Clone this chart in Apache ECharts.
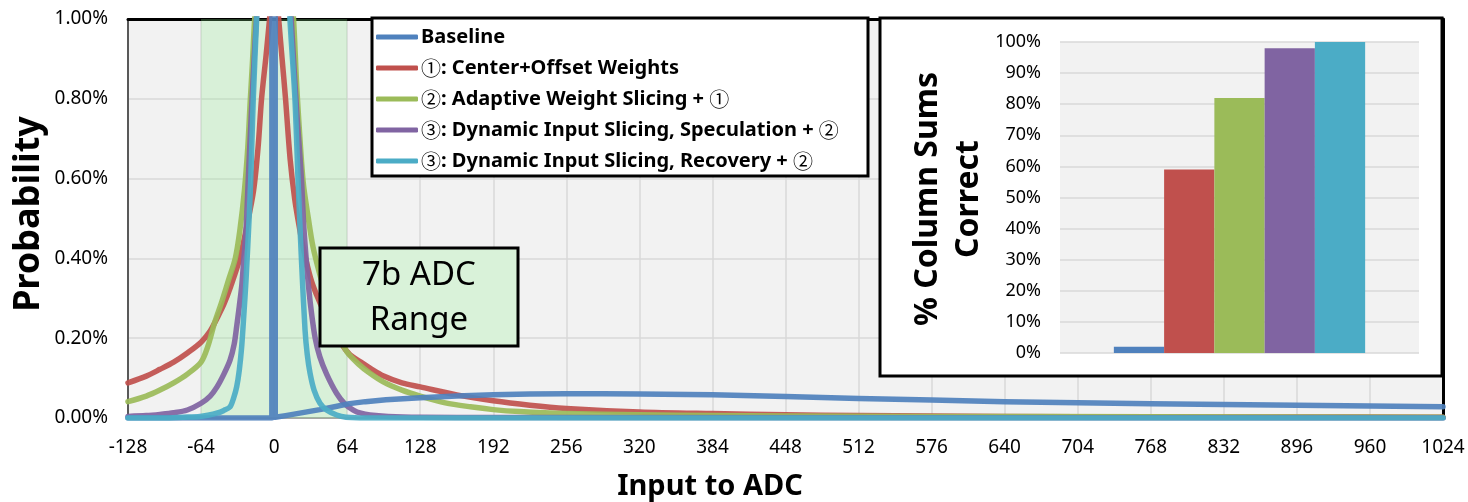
<!DOCTYPE html>
<html>
<head>
<meta charset="utf-8">
<script src="https://cdn.jsdelivr.net/npm/echarts@6/dist/echarts.min.js"></script>
<style>
html,body{margin:0;padding:0;background:#fff;}
#chart{width:1468px;height:502px;}
</style>
</head>
<body>
<div id="chart"></div>
<script>
// ---------- data ----------
const xMin = -128, xMax = 1024, xStep = 64;
const yMin = 0, yMax = 1.0, yStep = 0.2;           // percent
const bandRange = [-64, 64];                         // 7b ADC range
const seriesNames = [
  'Baseline',
  '①: Center+Offset Weights',
  '②: Adaptive Weight Slicing + ①',
  '③: Dynamic Input Slicing, Speculation + ②',
  '③: Dynamic Input Slicing, Recovery + ②'
];
const seriesColors = ['#4f81bd', '#c0504d', '#9bbb59', '#8064a2', '#4bacc6'];

// probability (%) vs input to ADC
const baseline = [
  [-128,0],[-64,0],[-2,0],[0,30],[1,0.002],[10,0.006],[20,0.011],[30,0.016],[40,0.021],
  [54,0.029],[66,0.036],[80,0.041],[98,0.046],[128,0.051],[160,0.055],[192,0.058],
  [224,0.060],[256,0.061],[288,0.061],[320,0.060],[384,0.058],[448,0.054],[512,0.049],
  [576,0.045],[640,0.041],[704,0.038],[768,0.036],[832,0.034],[896,0.032],[960,0.030],[1024,0.028]
];
const centerOffset = [
  [-128,0.088],[-112,0.105],[-100,0.122],[-88,0.140],[-76,0.163],[-64,0.190],[-56,0.218],
  [-50,0.25],[-44,0.285],[-38,0.33],[-30,0.40],[-24,0.48],[-18,0.57],[-14,0.68],[-11,0.80],
  [-7,0.91],[-4,1.0],[-2,1.08],[0,1.15],[2,1.08],[4,1.0],[7,0.90],[10,0.80],[14,0.65],
  [18,0.55],[22,0.48],[26,0.42],[32,0.35],[37,0.31],[44,0.265],[50,0.235],[58,0.19],
  [66,0.16],[76,0.14],[84,0.125],[96,0.105],[112,0.088],[128,0.078],[160,0.058],[192,0.043],
  [224,0.032],[256,0.024],[320,0.015],[384,0.011],[448,0.008],[512,0.006],[576,0.005],
  [640,0.004],[768,0.003],[896,0.0025],[1024,0.002]
];
const adaptiveWeight = [
  [-128,0.041],[-112,0.055],[-100,0.07],[-88,0.088],[-76,0.11],[-64,0.14],[-58,0.18],
  [-52,0.24],[-46,0.29],[-40,0.345],[-34,0.40],[-30,0.47],[-26,0.57],[-23,0.68],[-21,0.79],
  [-19,0.89],[-17,1.0],[-14,1.1],[0,1.3],[14,1.1],[17,1.0],[19.5,0.85],[21.5,0.75],
  [25.5,0.59],[30,0.5],[34,0.43],[40,0.36],[46,0.30],[52,0.25],[58,0.2],[64,0.165],
  [74,0.135],[84,0.112],[96,0.09],[112,0.07],[128,0.055],[150,0.038],[172,0.028],
  [192,0.021],[215,0.016],[256,0.011],[320,0.008],[384,0.006],[448,0.005],[576,0.004],
  [768,0.003],[1024,0.002]
];
const speculation = [
  [-128,0.004],[-112,0.006],[-100,0.009],[-88,0.013],[-76,0.02],[-64,0.037],[-56,0.055],
  [-50,0.078],[-44,0.11],[-38.6,0.145],[-35,0.185],[-32.8,0.229],[-30.5,0.28],[-28.4,0.33],
  [-26.5,0.40],[-24.6,0.47],[-22.6,0.60],[-20,0.76],[-17.5,0.9],[-15.5,1.0],[-12,1.15],
  [0,1.4],[12,1.15],[15,1.0],[17,0.9],[20,0.76],[22,0.68],[24,0.596],[26,0.48],[28.4,0.388],
  [30.5,0.32],[32.8,0.262],[36,0.2],[40,0.154],[46,0.11],[54.7,0.062],[62,0.035],
  [69.4,0.02],[76,0.012],[84,0.0075],[100,0.004],[128,0.002],[192,0.001],[1024,0]
];
const recovery = [
  [-128,0],[-96,0],[-80,0.002],[-65,0.004],[-58,0.007],[-50.3,0.012],[-44,0.019],
  [-38.6,0.028],[-35.5,0.05],[-32.8,0.078],[-30.5,0.12],[-28.4,0.179],[-26.5,0.26],
  [-24.6,0.346],[-21.7,0.513],[-20.5,0.596],[-18.3,0.797],[-15.3,1.0],[-12,1.2],[0,1.5],
  [11,1.2],[13.9,1.0],[18.3,0.797],[21.2,0.58],[24.1,0.388],[27.1,0.22],[29,0.16],
  [31.5,0.112],[35,0.07],[40.2,0.037],[46,0.02],[54.8,0.0075],[63,0.002],[80,0],[1024,0]
];
const curves = [baseline, centerOffset, adaptiveWeight, speculation, recovery];

// inset: % column sums correct
const barValues = [2, 59, 82, 98, 100];
const insetMin = 0, insetMax = 100, insetStep = 10;

// ---------- chart ----------
const FONT = '"Noto Sans", "Noto Sans CJK JP", sans-serif';
const chart = echarts.init(document.getElementById('chart'));

const drawOrder = [1, 2, 3, 0, 4];
const lineSeries = drawOrder.map((i, k) => ({
  type: 'line',
  name: seriesNames[i],
  data: curves[i],
  xAxisIndex: 0, yAxisIndex: 0,
  showSymbol: false,
  symbol: 'none',
  smooth: i === 0 ? false : 0.3,
  clip: true,
  z: 2 + k * 0.01,
  color: seriesColors[i],
  itemStyle: { color: seriesColors[i] },
  lineStyle: { color: seriesColors[i], width: 5.5, opacity: 0.92, cap: 'round', join: 'round' },
  animation: false,
  markArea: i === 1 ? {
    silent: true,
    itemStyle: { color: 'rgba(140,235,140,0.25)' },
    data: [[{ xAxis: bandRange[0] }, { xAxis: bandRange[1] }]]
  } : undefined
}));

const barSeries = barValues.map((v, i) => ({
  type: 'bar',
  name: 'bar' + i,
  data: [v],
  xAxisIndex: 2, yAxisIndex: 2,
  barGap: '0%',
  barCategoryGap: '30%',
  itemStyle: { color: seriesColors[i] },
  z: 6,
  animation: false
}));

const option = {
  backgroundColor: '#ffffff',
  animation: false,
  textStyle: { fontFamily: FONT },
  grid: [
    { left: 128, right: 25, top: 19, bottom: 84, show: true, backgroundColor: '#f2f2f2', borderWidth: 0 },
    { left: 1060, right: 49, top: 42, bottom: 149, show: true, backgroundColor: '#f2f2f2', borderWidth: 0, z: 4 }
  ],
  xAxis: [
    {
      type: 'value', gridIndex: 0, min: xMin, max: xMax, interval: xStep,
      axisLine: { show: true, onZero: false, lineStyle: { color: '#a6a6a6', width: 2 } },
      axisTick: { show: false },
      axisLabel: { color: '#000', fontSize: 19, margin: 20, fontFamily: FONT, formatter: v => String(v) },
      splitLine: { show: true, lineStyle: { color: '#d9d9d9', width: 1.5 } }
    },
    {
      type: 'value', gridIndex: 0, position: 'top', min: xMin, max: xMax,
      axisLine: { show: true, onZero: false, lineStyle: { color: '#000', width: 3 } },
      axisTick: { show: false }, axisLabel: { show: false }, splitLine: { show: false }
    },
    {
      type: 'category', gridIndex: 1, data: [''], z: 4,
      axisLine: { show: false }, axisTick: { show: false }, axisLabel: { show: false }
    }
  ],
  yAxis: [
    {
      type: 'value', gridIndex: 0, min: yMin, max: yMax, interval: yStep,
      axisLine: { show: true, onZero: false, lineStyle: { color: '#595959', width: 2 } },
      axisTick: { show: false },
      axisLabel: { color: '#000', fontSize: 19, margin: 20, fontFamily: FONT,
        formatter: v => v.toFixed(2) + '%' },
      splitLine: { show: true, lineStyle: { color: '#d9d9d9', width: 1.5 } }
    },
    {
      type: 'value', gridIndex: 0, position: 'right', min: yMin, max: yMax,
      axisLine: { show: true, onZero: false, lineStyle: { color: '#000', width: 3 } },
      axisTick: { show: false }, axisLabel: { show: false }, splitLine: { show: false }
    },
    {
      type: 'value', gridIndex: 1, min: insetMin, max: insetMax, interval: insetStep, z: 4,
      axisLine: { show: false }, axisTick: { show: false },
      axisLabel: { color: '#000', fontSize: 18, margin: 19, fontFamily: FONT, formatter: '{value}%' },
      splitLine: { show: true, lineStyle: { color: '#d9d9d9', width: 1.5 } }
    }
  ],
  legend: {
    data: seriesNames,
    orient: 'vertical',
    left: 376, top: 26,
    padding: 0,
    itemWidth: 42, itemHeight: 5,
    itemGap: 9,
    icon: 'roundRect',
    z: 6,
    formatter: name => name.replace(/([①②③])/g, '{c|$1}'),
    textStyle: {
      color: '#000', fontSize: 20, fontWeight: 'bold', fontFamily: FONT, lineHeight: 22,
      padding: [0, 0, 0, -2],
      rich: { c: { fontFamily: '"Noto Sans CJK JP"', fontSize: 20, fontWeight: 'normal', color: '#000', lineHeight: 22 } }
    },
    selectedMode: false
  },
  graphic: [
    { type: 'rect', z: 5, shape: { x: 372, y: 18, width: 496, height: 158 },
      style: { fill: '#fff', stroke: '#000', lineWidth: 3 } },
    { type: 'rect', z: 3, shape: { x: 880, y: 18, width: 562, height: 358 },
      style: { fill: '#fff', stroke: '#000', lineWidth: 3 } },
    { type: 'rect', z: 5, shape: { x: 320, y: 248, width: 198, height: 98 },
      style: { fill: '#d9f2d9', stroke: '#000', lineWidth: 3 } },
    { type: 'text', z: 6, x: 419, y: 298,
      style: { text: '7b ADC\nRange', fill: '#000', font: 'normal 33px "Noto Sans"',
        textAlign: 'center', textVerticalAlign: 'middle', lineHeight: 45 } },
    { type: 'text', z: 6, x: 29, y: 214, rotation: Math.PI / 2,
      style: { text: 'Probability', fill: '#000', font: 'bold 36px "Noto Sans"',
        textAlign: 'center', textVerticalAlign: 'middle' } },
    { type: 'text', z: 6, x: 710, y: 487,
      style: { text: 'Input to ADC', fill: '#000', font: 'bold 29px "Noto Sans"',
        textAlign: 'center', textVerticalAlign: 'middle' } },
    { type: 'text', z: 6, x: 948, y: 199, rotation: Math.PI / 2,
      style: { text: '% Column Sums\nCorrect', fill: '#000', font: 'bold 32px "Noto Sans"',
        textAlign: 'center', textVerticalAlign: 'middle', lineHeight: 41 } }
  ],
  series: lineSeries.concat(barSeries)
};
chart.setOption(option);
</script>
</body>
</html>
